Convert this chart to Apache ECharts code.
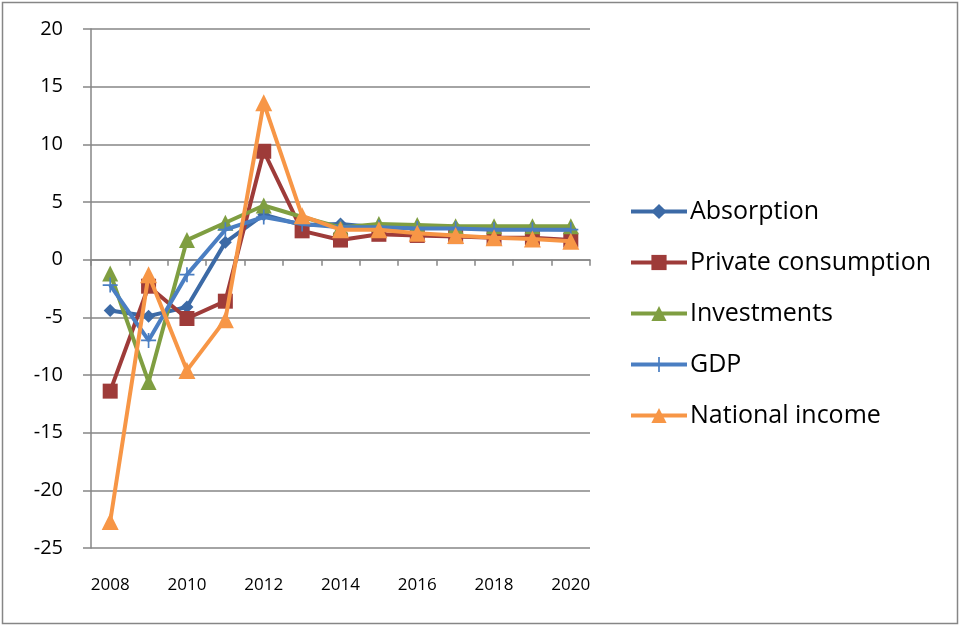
<!DOCTYPE html>
<html>
<head>
<meta charset="utf-8">
<script src="https://cdn.jsdelivr.net/npm/echarts@6/dist/echarts.min.js"></script>
<style>
html,body{margin:0;padding:0;background:#fff;}
#chart{width:961px;height:628px;}
</style>
</head>
<body>
<div id="chart"></div>
<script>
const years = ['2008','2009','2010','2011','2012','2013','2014','2015','2016','2017','2018','2019','2020'];
const absorption = [-4.4, -4.9, -4.1, 1.5, 3.9, 3.0, 3.1, 2.8, 2.8, 2.8, 2.7, 2.7, 2.6];
const privateConsumption = [-11.4, -2.3, -5.1, -3.6, 9.4, 2.5, 1.7, 2.2, 2.1, 2.0, 1.9, 1.9, 1.7];
const investments = [-1.2, -10.6, 1.7, 3.2, 4.7, 3.7, 2.8, 3.1, 3.0, 2.9, 2.9, 2.9, 2.9];
const gdp = [-2.2, -7.0, -1.3, 2.6, 3.7, 3.1, 2.8, 2.8, 2.7, 2.7, 2.6, 2.6, 2.6];
const nationalIncome = [-22.7, -1.3, -9.6, -5.2, 13.6, 3.8, 2.6, 2.6, 2.3, 2.1, 1.9, 1.8, 1.6];
const yTicks = {min: -25, max: 20, interval: 5};

const names = ['Absorption','Private consumption','Investments','GDP','National income'];
const colors = ['#3C6AA6','#9E3B39','#7F9E41','#4A7EC2','#F79646'];
const plus = 'path://M-0.9,-8 L0.9,-8 L0.9,-0.9 L8,-0.9 L8,0.9 L0.9,0.9 L0.9,8 L-0.9,8 L-0.9,0.9 L-8,0.9 L-8,-0.9 L-0.9,-0.9 Z';
const symbols = ['diamond','rect','triangle',plus,'triangle'];
const sizes = [13, 15, 16, 15, 17];
const datas = [absorption, privateConsumption, investments, gdp, nationalIncome];

const chart = echarts.init(document.getElementById('chart'));
chart.setOption({
  animation: false,
  backgroundColor: '#fff',
  graphic: [{type:'rect', shape:{x:2.5,y:2.5,width:955,height:621}, style:{fill:'none', stroke:'#868686', lineWidth:1.5}, silent:true, z:-1}],
  grid: {left: 91, right: 371, top: 29, bottom: 80},
  legend: {
    orient: 'vertical', left: 624, top: 194, itemWidth: 56, itemHeight: 19, itemGap: 26,
    lineStyle: {width: 4},
    textStyle: {fontFamily: 'Open Sans', fontSize: 25, color: '#000', padding:[0,0,0,-2], lineHeight: 25},
    data: names
  },
  xAxis: [{
    type: 'category', data: years, boundaryGap: true,
    axisLine: {onZero: true, lineStyle: {color: '#868686', width: 1.5}},
    axisTick: {show: true, interval: 0, length: 6, lineStyle: {color: '#868686', width: 1.5}},
    axisLabel: {show: false}
  },{
    type: 'category', data: years, boundaryGap: true, position: 'bottom',
    axisLine: {show: false, onZero: false}, axisTick: {show: false},
    axisLabel: {interval: 1, margin: 29, fontFamily: 'Open Sans', fontSize: 17, color: '#000'}
  }],
  yAxis: {
    type: 'value', min: yTicks.min, max: yTicks.max, interval: yTicks.interval,
    axisLine: {show: true, lineStyle: {color: '#868686', width: 1.5}},
    axisTick: {show: true, length: 8, lineStyle: {color: '#868686', width: 1.5}},
    splitLine: {lineStyle: {color: '#868686', width: 1.5}},
    axisLabel: {margin: 28, fontFamily: 'Open Sans', fontSize: 20, color: '#000'}
  },
  series: names.map((n, i) => ({
    name: n, type: 'line', data: datas[i], xAxisIndex: 0,
    symbol: symbols[i], symbolSize: sizes[i], showSymbol: true,
    lineStyle: {color: colors[i], width: 4},
    itemStyle: {color: colors[i], borderWidth: 0},
    z: 2 + i
  }))
});
</script>
</body>
</html>
